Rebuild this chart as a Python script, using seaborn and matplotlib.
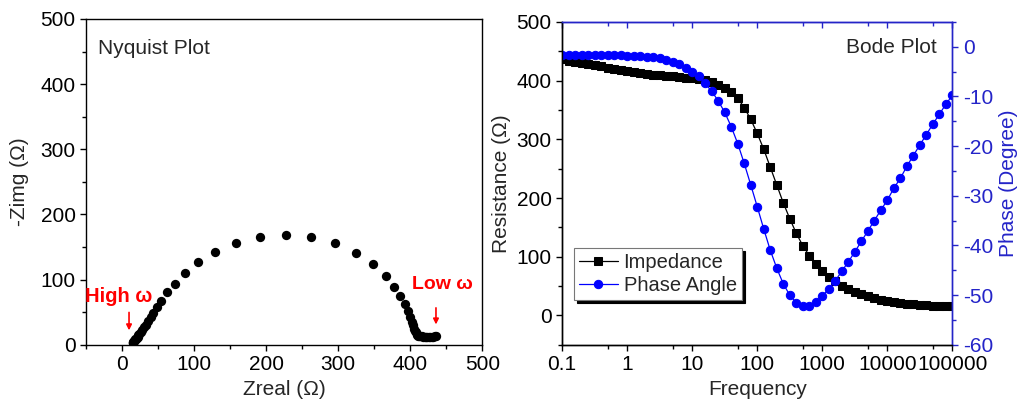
import numpy as np
import pandas as pd
import seaborn as sns
import matplotlib.pyplot as plt
from matplotlib.ticker import MultipleLocator, FixedLocator, NullFormatter

# Bode data, 10 points per decade
freq = [0.1, 0.126, 0.158, 0.2, 0.251, 0.316, 0.398, 0.501, 0.631, 0.794,
        1, 1.26, 1.58, 2, 2.51, 3.16, 3.98, 5.01, 6.31, 7.94,
        10, 12.6, 15.8, 20, 25.1, 31.6, 39.8, 50.1, 63.1, 79.4,
        100, 126, 158, 200, 251, 316, 398, 501, 631, 794,
        1000, 1259, 1585, 1995, 2512, 3162, 3981, 5012, 6310, 7943,
        10000, 12589, 15849, 19953, 25119, 31623, 39811, 50119, 63096, 79433,
        100000]
impedance = [436, 434, 432, 430, 428, 426, 424, 422, 420, 418,
             416, 414, 412.5, 411, 410, 409, 408, 407, 406, 405,
             404, 402.5, 400.5, 397.5, 393, 388, 381, 370, 354, 334,
             310, 283, 253, 222, 192, 165, 140, 119, 102, 87,
             75, 66, 58, 51, 45, 40.5, 36, 32.5, 29.5, 27,
             25, 23, 21.5, 20, 19, 18, 17.2, 16.5, 16, 15.6,
             15.3]
phase = [-1.7, -1.7, -1.7, -1.7, -1.7, -1.7, -1.7, -1.7, -1.7, -1.7,
         -1.8, -1.8, -1.9, -2.0, -2.1, -2.3, -2.7, -3.1, -3.5, -4.2,
         -5.0, -6.0, -7.4, -9.0, -10.9, -13.2, -16.1, -19.5, -23.5, -27.8,
         -32.2, -36.7, -40.9, -44.6, -47.7, -50.0, -51.5, -52.1, -52.1, -51.3,
         -50.2, -48.7, -47.1, -45.2, -43.3, -41.3, -39.2, -37.1, -35.0, -32.9,
         -30.9, -28.5, -26.5, -24.1, -21.9, -19.8, -17.7, -15.6, -13.6, -11.6,
         -9.8]

# Nyquist data
z_real = [435.8, 433.8, 431.8, 429.8, 427.8, 425.8, 423.8, 421.8, 419.8, 417.8,
          415.8, 413.8, 412.3, 410.7, 409.7, 408.7, 407.5, 406.4, 405.2, 403.9,
          402.5, 400.3, 397.2, 392.6, 385.9, 377.7, 366.1, 348.8, 324.6, 295.5,
          262.3, 226.9, 191.2, 158.1, 129.2, 106.1, 87.2, 73.1, 62.7, 54.4,
          48.0, 43.6, 39.5, 35.9, 32.8, 30.4, 27.9, 25.9, 24.2, 22.7,
          21.5, 20.2, 19.2, 18.3, 17.6, 16.9, 16.4, 15.9, 15.6, 15.3,
          15.1]
z_imag = [12.9, 12.9, 12.8, 12.8, 12.8, 12.8, 12.8, 12.8, 12.8, 12.8,
          12.9, 13.0, 13.7, 14.3, 15.0, 16.4, 19.2, 22.0, 24.8, 29.7,
          35.2, 42.1, 51.6, 62.2, 74.3, 88.6, 105.7, 123.5, 141.2, 155.8,
          165.2, 169.2, 165.6, 155.9, 142.0, 126.4, 109.6, 93.9, 80.5, 67.9,
          57.6, 49.6, 42.5, 36.2, 30.9, 26.7, 22.8, 19.6, 16.9, 14.7,
          12.8, 11.0, 9.6, 8.2, 7.1, 6.1, 5.2, 4.4, 3.8, 3.1,
          2.6]

freq_ticks = [0.1, 1, 10, 100, 1000, 10000, 100000]
freq_labels = ["0.1", "1", "10", "100", "1000", "10000", "100000"]
freq_minor = [0.5, 5, 50, 500, 5000, 50000]

sns.set_style("ticks")
plt.rcParams['font.family'] = ['Liberation Sans', 'DejaVu Sans']
plt.rcParams['font.size'] = 15
plt.rcParams['axes.unicode_minus'] = False

BLUE = '#0000ff'
AXBLUE = '#2424c8'
FS = 15

fig = plt.figure(figsize=(10.24, 4.12), dpi=100)
ax1 = fig.add_axes([0.084, 0.163, 0.387, 0.791])
ax2 = fig.add_axes([0.549, 0.163, 0.381, 0.784])

# ---- Nyquist plot
sns.scatterplot(x=z_real, y=z_imag, ax=ax1, color='black', s=45, linewidth=0)
ax1.set_xlim(-50, 500)
ax1.set_ylim(0, 500)
ax1.xaxis.set_major_locator(FixedLocator([0, 100, 200, 300, 400, 500]))
ax1.xaxis.set_minor_locator(MultipleLocator(50))
ax1.yaxis.set_major_locator(MultipleLocator(100))
ax1.yaxis.set_minor_locator(MultipleLocator(50))
ax1.tick_params(which='both', direction='out', width=1, colors='black', labelsize=FS)
ax1.tick_params(which='major', length=4)
ax1.tick_params(which='minor', length=3)
for sp in ax1.spines.values():
    sp.set_color('black')
    sp.set_linewidth(1.0)
ax1.set_xlabel("Zreal (Ω)", fontsize=FS)
ax1.set_ylabel("-Zimg (Ω)", fontsize=FS, labelpad=8)
ax1.text(0.03, 0.908, "Nyquist Plot", transform=ax1.transAxes, ha='left', va='center', fontsize=FS)

ax1.text(-5, 74, "High ω", color='red', fontweight='bold', ha='center', va='center', fontsize=14.5)
ax1.annotate('', xy=(9.7, 18), xytext=(9.7, 54),
             arrowprops=dict(arrowstyle='-|>', color='red', lw=1.2, mutation_scale=8))
ax1.text(444, 92, "Low ω", color='red', fontweight='bold', ha='center', va='center', fontsize=14)
ax1.annotate('', xy=(435.7, 27), xytext=(435.7, 61),
             arrowprops=dict(arrowstyle='-|>', color='red', lw=1.2, mutation_scale=8))

# ---- Bode plot
sns.lineplot(x=freq, y=impedance, ax=ax2, color='black', marker='s', markersize=5.2,
             markeredgecolor='black', linewidth=0.9, label='Impedance', legend=False)
ax2.set_xscale('log')
ax2.set_xlim(0.1, 100000)
ax2.set_ylim(-50, 500)
ax2.xaxis.set_major_locator(FixedLocator(freq_ticks))
ax2.set_xticklabels(freq_labels)
ax2.xaxis.set_minor_locator(FixedLocator(freq_minor))
ax2.xaxis.set_minor_formatter(NullFormatter())
ax2.yaxis.set_major_locator(FixedLocator([0, 100, 200, 300, 400, 500]))
ax2.yaxis.set_minor_locator(MultipleLocator(50))
ax2.tick_params(which='both', direction='out', width=1, colors='black', labelsize=FS)
ax2.tick_params(which='major', length=4)
ax2.tick_params(which='minor', length=3)
ax2.set_xlabel("Frequency", fontsize=FS)
ax2.set_ylabel("Resistance (Ω)", fontsize=FS)

ax3 = ax2.twinx()
sns.lineplot(x=freq, y=phase, ax=ax3, color=BLUE, marker='o', markersize=6,
             markeredgecolor=BLUE, linewidth=0.9, label='Phase Angle', legend=False)
ax3.set_ylim(-60, 5)
ax3.yaxis.set_major_locator(FixedLocator([-60, -50, -40, -30, -20, -10, 0]))
ax3.yaxis.set_minor_locator(MultipleLocator(5))
ax3.tick_params(axis='y', which='both', direction='out', width=1, colors=AXBLUE, labelsize=FS)
ax3.tick_params(axis='y', which='major', length=4)
ax3.tick_params(axis='y', which='minor', length=3)
ax3.set_ylabel("Phase (Degree)", fontsize=FS, color=AXBLUE)

for a in (ax2, ax3):
    a.spines['left'].set_color('black')
    a.spines['bottom'].set_color('black')
    a.spines['right'].set_color(AXBLUE)
    a.spines['top'].set_color(AXBLUE)
    for sp in a.spines.values():
        sp.set_linewidth(1.0)

sec = ax2.secondary_xaxis('top')
sec.xaxis.set_major_locator(FixedLocator(freq_ticks))
sec.xaxis.set_minor_locator(FixedLocator(freq_minor))
sec.xaxis.set_minor_formatter(NullFormatter())
sec.tick_params(which='both', direction='in', colors=AXBLUE, labeltop=False, width=1)
sec.tick_params(which='major', length=4)
sec.tick_params(which='minor', length=3)
sec.spines['top'].set_color(AXBLUE)

ax3.text(0.96, 0.92, "Bode Plot", transform=ax3.transAxes, ha='right', va='center', fontsize=FS)

h1, l1 = ax2.get_legend_handles_labels()
h2, l2 = ax3.get_legend_handles_labels()
leg = ax3.legend(h1 + h2, l1 + l2, loc='lower left', bbox_to_anchor=(0.031, 0.139),
                 borderaxespad=0, fancybox=False, framealpha=1, edgecolor='#777777',
                 shadow={'color': 'black', 'alpha': 1}, fontsize=14.5,
                 handlelength=1.9, handletextpad=0.3, borderpad=0.25, labelspacing=0.2)
leg.get_frame().set_linewidth(0.8)

fig.savefig("out.png", dpi=100)
